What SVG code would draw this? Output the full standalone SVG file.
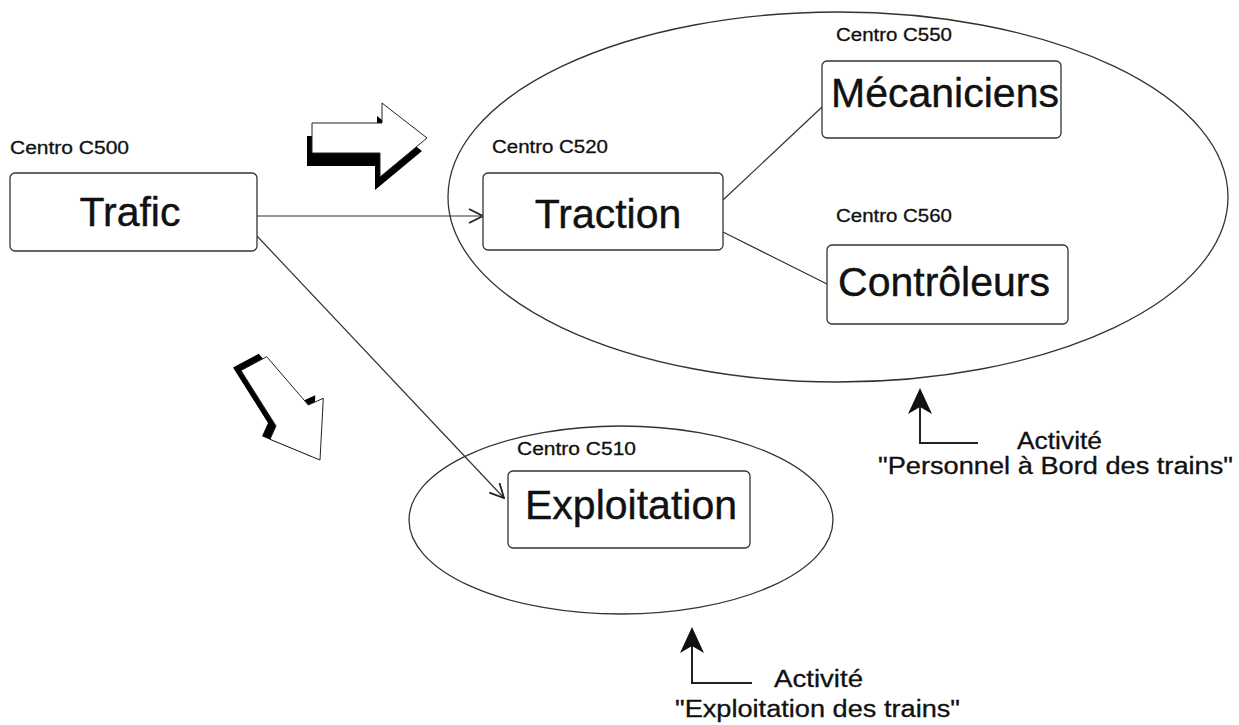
<svg xmlns="http://www.w3.org/2000/svg" width="1239" height="725" viewBox="0 0 1239 725">
<style>
.box{fill:#fff;stroke:#333;stroke-width:1.3}
.ell{fill:none;stroke:#333;stroke-width:1.3}
.big{font-family:"Liberation Sans",Arial,sans-serif;font-size:41px;fill:#111;text-anchor:middle;stroke:#111;stroke-width:0.4}
.lbl{font-family:"Liberation Sans",Arial,sans-serif;font-size:18px;fill:#111;stroke:#111;stroke-width:0.3}
.act{font-family:"Liberation Sans",Arial,sans-serif;font-size:23px;fill:#111;stroke:#111;stroke-width:0.3}
.con{fill:none;stroke:#333;stroke-width:1.2}
.bend{fill:none;stroke:#222;stroke-width:2}
.shadow{fill:#000}
.blk{fill:#fff;stroke:#222;stroke-width:1}
</style>
<defs>
<marker id="open" viewBox="0 0 16 16" refX="15" refY="8" markerWidth="16" markerHeight="16" markerUnits="userSpaceOnUse" orient="auto">
<path d="M1,1 L15,8 L1,15" fill="none" stroke="#222" stroke-width="1.8"/>
</marker>
</defs>
<rect width="1239" height="725" fill="#fff"/>

<g id="group-traction" class="ell"><ellipse cx="838" cy="197" rx="390" ry="185"/></g>
<g id="group-exploitation" class="ell"><ellipse cx="621" cy="520" rx="212" ry="94"/></g>

<g id="connectors">
<line class="con" x1="257" y1="216" x2="483" y2="216" marker-end="url(#open)"/>
<line class="con" x1="257" y1="236" x2="504" y2="498" marker-end="url(#open)"/>
<line class="con" x1="723" y1="200" x2="822" y2="107"/>
<line class="con" x1="723" y1="232" x2="827" y2="284"/>
</g>

<g id="trafic">
<text class="lbl" x="10" y="154" textLength="119" lengthAdjust="spacingAndGlyphs">Centro C500</text>
<rect class="box" x="10" y="173" width="247" height="78" rx="5"/>
<text class="big" x="130" y="226">Trafic</text>
</g>

<g id="traction">
<text class="lbl" x="492" y="153" textLength="116" lengthAdjust="spacingAndGlyphs">Centro C520</text>
<rect class="box" x="483" y="173" width="240" height="77" rx="5"/>
<text class="big" x="608" y="228">Traction</text>
</g>

<g id="mecaniciens">
<text class="lbl" x="836" y="41" textLength="116" lengthAdjust="spacingAndGlyphs">Centro C550</text>
<rect class="box" x="822" y="61" width="239" height="77" rx="5"/>
<text class="big" x="945" y="107">Mécaniciens</text>
</g>

<g id="controleurs">
<text class="lbl" x="836" y="222" textLength="116" lengthAdjust="spacingAndGlyphs">Centro C560</text>
<rect class="box" x="827" y="245" width="241" height="79" rx="5"/>
<text class="big" x="944" y="296">Contrôleurs</text>
</g>

<g id="exploitation">
<text class="lbl" x="517" y="455" textLength="119" lengthAdjust="spacingAndGlyphs">Centro C510</text>
<rect class="box" x="508" y="471" width="242" height="77" rx="5"/>
<text class="big" x="631" y="519">Exploitation</text>
</g>

<g id="block-arrow-right">
<polygon class="shadow" transform="translate(-5,13)" points="312,123 382,123 382,103 427,138 380,177 380,153 312,153"/>
<polygon class="blk" points="312,123 382,123 382,103 427,138 380,177 380,153 312,153"/>
</g>

<g id="block-arrow-down">
<polygon class="shadow" transform="translate(-8,-3)" points="266.7,356.7 308.3,405 323.3,398.3 320,460 270,439.3 276,426 241,370.5"/>
<polygon class="blk" points="266.7,356.7 308.3,405 323.3,398.3 320,460 270,439.3 276,426 241,370.5"/>
</g>

<g id="activite-personnel">
<path class="bend" d="M920,398 V443 H978"/>
<path d="M920,388 L932,414 L920,407 L908,414 Z" fill="#111"/>
<text class="act" x="1017" y="449" textLength="85" lengthAdjust="spacingAndGlyphs">Activité</text>
<text class="act" x="878" y="474" textLength="355" lengthAdjust="spacingAndGlyphs">"Personnel à Bord des trains"</text>
</g>

<g id="activite-exploitation">
<path class="bend" d="M692,637 V683 H752"/>
<path d="M692,627 L704,653 L692,646 L680,653 Z" fill="#111"/>
<text class="act" x="774" y="687" textLength="89" lengthAdjust="spacingAndGlyphs">Activité</text>
<text class="act" x="675" y="717" textLength="285" lengthAdjust="spacingAndGlyphs">"Exploitation des trains"</text>
</g>
</svg>
